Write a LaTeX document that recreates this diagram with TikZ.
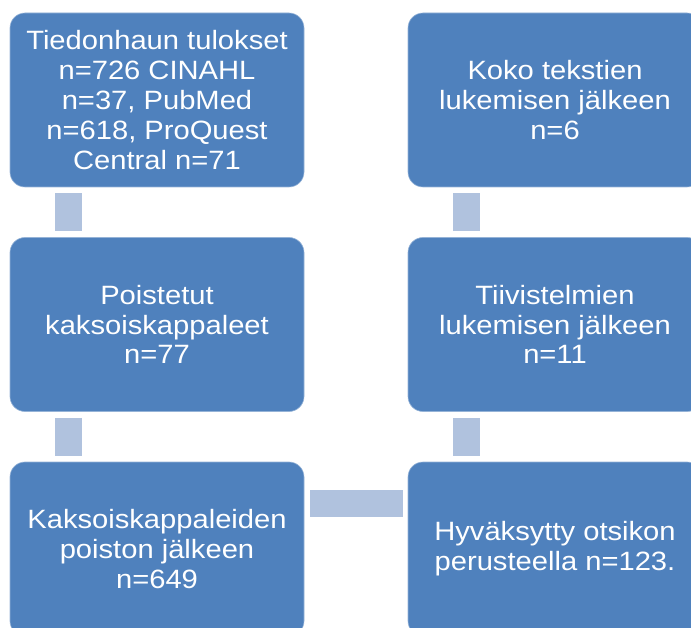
\documentclass[tikz,border=0pt]{standalone}
\usepackage{fontspec}
\setmainfont{Liberation Sans}[FakeStretch=1.1]
\usepackage{xcolor}
\usepackage{tikz}
\usetikzlibrary{positioning, calc}
\definecolor{boxblue}{HTML}{4F81BD}
\definecolor{barblue}{HTML}{B0C2DE}
\tikzstyle{phase} = [rectangle, minimum width=294pt, minimum height=174pt, align=center, fill=boxblue, draw=boxblue!60!white, line width=0.6pt, rounded corners=15pt, text=white, font=\fontsize{26.5}{29.8}\selectfont]
\tikzstyle{link} = [barblue, line width=27pt]

\begin{document}
\begin{tikzpicture}
    \useasboundingbox (0,0) rectangle (691pt,-628pt);
    \clip (0,0) rectangle (691pt,-628pt);

    % Left column
    \node[phase] (search) at (157pt, -100pt) {Tiedonhaun tulokset\\n=726 CINAHL\\n=37, PubMed\\n=618, ProQuest\\Central n=71};
    \node[phase] (dup) at (157pt, -324.5pt) {Poistetut\\kaksoiskappaleet\\n=77};
    \node[phase] (after) at (157pt, -549pt) {Kaksoiskappaleiden\\poiston jälkeen\\n=649};

    % Right column
    \node[phase] (accepted) at (555pt, -549pt) {Hyväksytty otsikon\\perusteella n=123.};
    \node[phase] (abstracts) at (555pt, -324.5pt) {Tiivistelmien\\lukemisen jälkeen\\n=11};
    \node[phase] (fulltext) at (555pt, -100pt) {Koko tekstien\\lukemisen jälkeen\\n=6};

    % Bars
    \draw[link] ([xshift=58.5pt, yshift=-6pt]search.south west) -- ([xshift=58.5pt, yshift=6pt]dup.north west);
    \draw[link] ([xshift=58.5pt, yshift=-6pt]dup.south west) -- ([xshift=58.5pt, yshift=6pt]after.north west);
    \draw[link] ([xshift=6pt, yshift=-41.5pt]after.north east) -- ([xshift=-5pt, yshift=-41.5pt]accepted.north west);
    \draw[link] ([xshift=58.5pt, yshift=6pt]accepted.north west) -- ([xshift=58.5pt, yshift=-6pt]abstracts.south west);
    \draw[link] ([xshift=58.5pt, yshift=6pt]abstracts.north west) -- ([xshift=58.5pt, yshift=-6pt]fulltext.south west);
\end{tikzpicture}
\end{document}
